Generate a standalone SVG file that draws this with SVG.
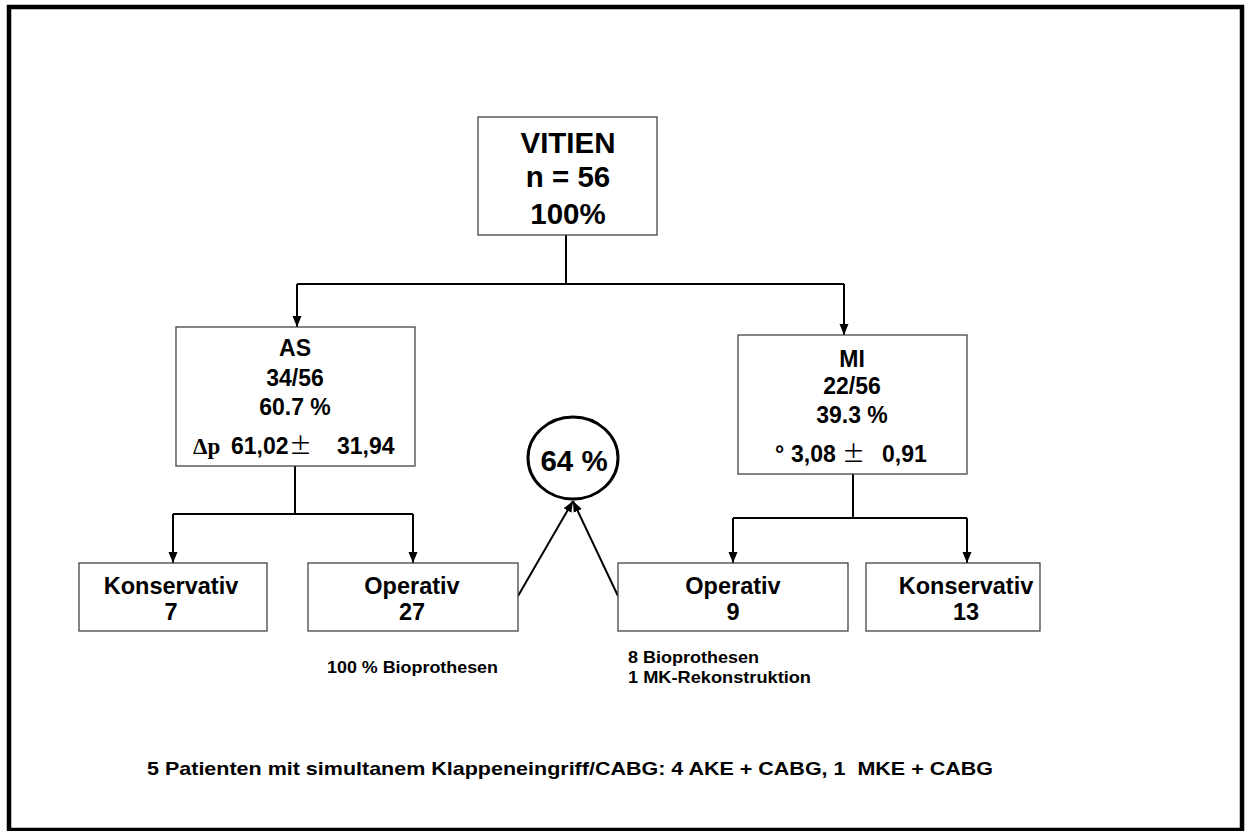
<svg xmlns="http://www.w3.org/2000/svg" width="1245" height="831" viewBox="0 0 1245 831">
<style>
.frame{fill:none;stroke:#000;stroke-width:4.5}
.box{fill:#fff;stroke:#444;stroke-width:1.3}
.ln{fill:none;stroke:#000;stroke-width:2}
.t{font-family:"Liberation Sans",Arial,sans-serif;font-weight:bold;fill:#000}
.c{text-anchor:middle}
.f30{font-size:29.5px}
.f23{font-size:23px}
.f24{font-size:23.5px}
.f16{font-size:16.5px}
.f18{font-size:18.5px}
.ser{font-family:"Liberation Serif","Times New Roman",serif;font-weight:bold}
.pm{font-family:"Noto Sans CJK JP","Noto Sans",sans-serif;font-weight:normal}
</style>
<defs>
<marker id="ah" markerUnits="userSpaceOnUse" markerWidth="12" markerHeight="10" refX="11" refY="4.5" orient="auto">
<path d="M0,0 L11,4.5 L0,9 z" fill="#000"/>
</marker>
</defs>
<rect width="1245" height="831" fill="#fff"/>
<rect class="frame" x="9" y="7" width="1233" height="823"/>

<g id="connectors">
<path class="ln" d="M566 235 V284"/>
<path class="ln" d="M297 284 H844"/>
<path class="ln" d="M297 284 V327" marker-end="url(#ah)"/>
<path class="ln" d="M844 284 V335" marker-end="url(#ah)"/>
<path class="ln" d="M295 466 V514"/>
<path class="ln" d="M173 514 H413"/>
<path class="ln" d="M173 514 V563" marker-end="url(#ah)"/>
<path class="ln" d="M413 514 V563" marker-end="url(#ah)"/>
<path class="ln" d="M853 474 V518"/>
<path class="ln" d="M733 518 H967"/>
<path class="ln" d="M733 518 V563" marker-end="url(#ah)"/>
<path class="ln" d="M967 518 V563" marker-end="url(#ah)"/>
<path class="ln" d="M518 596 L573 501" marker-end="url(#ah)"/>
<path class="ln" d="M618 596 L573 501" marker-end="url(#ah)"/>
</g>

<g id="vitien">
<rect class="box" x="478" y="117" width="179" height="118"/>
<text class="t c f30" x="568" y="153">VITIEN</text>
<text class="t c f30" x="568" y="187">n = 56</text>
<text class="t c f30" x="568" y="224">100%</text>
</g>

<g id="as">
<rect class="box" x="176" y="327" width="239" height="139"/>
<text class="t c f23" x="295" y="356">AS</text>
<text class="t c f23" x="295" y="386">34/56</text>
<text class="t c f23" x="295" y="415">60.7 %</text>
<text class="t f23" y="454"><tspan class="ser" x="193">Δp</tspan><tspan x="231">61,02</tspan><tspan class="pm" x="289">±</tspan><tspan x="337">31,94</tspan></text>
</g>

<g id="mi">
<rect class="box" x="738" y="335" width="229" height="139"/>
<text class="t c f23" x="852" y="367">MI</text>
<text class="t c f23" x="852" y="394">22/56</text>
<text class="t c f23" x="852" y="423">39.3 %</text>
<text class="t f23" y="462"><tspan x="775">°</tspan><tspan x="791">3,08</tspan><tspan class="pm" x="842">±</tspan><tspan x="882">0,91</tspan></text>
</g>

<g id="circle64">
<ellipse cx="573" cy="458" rx="45" ry="41" fill="#fff" stroke="#000" stroke-width="3"/>
<text class="t c f30" x="574" y="471">64 %</text>
</g>

<g id="kons7">
<rect class="box" x="79" y="563" width="188" height="68"/>
<text class="t c f24" x="171" y="594">Konservativ</text>
<text class="t c f24" x="171" y="620">7</text>
</g>

<g id="op27">
<rect class="box" x="308" y="563" width="210" height="68"/>
<text class="t c f24" x="412" y="594">Operativ</text>
<text class="t c f24" x="412" y="620">27</text>
</g>

<g id="op9">
<rect class="box" x="618" y="563" width="230" height="68"/>
<text class="t c f24" x="733" y="594">Operativ</text>
<text class="t c f24" x="733" y="620">9</text>
</g>

<g id="kons13">
<rect class="box" x="866" y="563" width="174" height="68"/>
<text class="t c f24" x="966" y="594">Konservativ</text>
<text class="t c f24" x="966" y="620">13</text>
</g>

<g id="notes">
<text class="t f16" x="327" y="673" textLength="171" lengthAdjust="spacingAndGlyphs">100 % Bioprothesen</text>
<text class="t f16" x="628" y="663" textLength="131" lengthAdjust="spacingAndGlyphs">8 Bioprothesen</text>
<text class="t f16" x="628" y="683" textLength="183" lengthAdjust="spacingAndGlyphs">1 MK-Rekonstruktion</text>
<text class="t f18" x="147" y="775" textLength="846" lengthAdjust="spacingAndGlyphs">5 Patienten mit simultanem Klappeneingriff/CABG: 4 AKE + CABG, 1&#160; MKE + CABG</text>
</g>
</svg>
